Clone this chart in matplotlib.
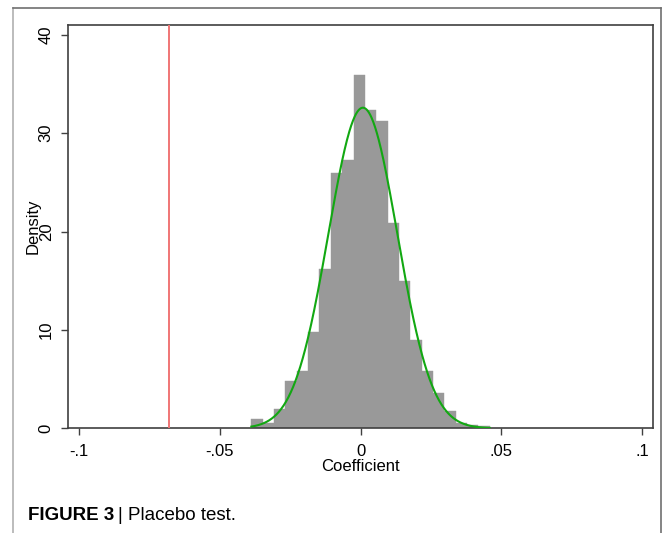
import numpy as np
import matplotlib
matplotlib.use("Agg")
import matplotlib.pyplot as plt
from matplotlib.lines import Line2D

# ---- data ----
bin_start = -0.0388
bin_width = 0.004032
densities = [0.95, 0.5, 2.0, 4.8, 5.8, 9.8, 16.2, 26.0, 27.3, 35.9, 32.4,
             31.2, 20.9, 15.0, 9.0, 5.8, 3.6, 1.8, 0.55, 0.3, 0.25]
normal_mean = 0.0008
normal_sd = 0.01224
true_coef = -0.068
x_ticks = [-0.1, -0.05, 0, 0.05, 0.1]
x_ticklabels = ["-.1", "-.05", "0", ".05", ".1"]
y_ticks = [0, 10, 20, 30, 40]
y_ticklabels = ["0", "10", "20", "30", "40"]

plt.rcParams['font.family'] = ['Liberation Sans', 'DejaVu Sans']

fig = plt.figure(figsize=(6.63, 5.33), dpi=100)
W, H = 663, 533

# outer frame of the figure panel
fig.add_artist(Line2D([12.7 / W, 12.7 / W], [0, 1 - 8.3 / H], transform=fig.transFigure, color='#b0b0b0', lw=1.2))
fig.add_artist(Line2D([12.7 / W, 661 / W], [1 - 8.3 / H, 1 - 8.3 / H], transform=fig.transFigure, color='#707070', lw=1.2))
fig.add_artist(Line2D([661 / W, 661 / W], [0, 1 - 8.3 / H], transform=fig.transFigure, color='#707070', lw=1.2))

ax = fig.add_axes([67.7 / W, 1 - 428.3 / H, (652.7 - 67.7) / W, (428.3 - 25) / H])

n = len(densities)
lefts = bin_start + bin_width * np.arange(n)
ax.bar(lefts, densities, width=bin_width, align='edge', color='#999999',
       edgecolor='#999999', linewidth=0.3, zorder=2)

xs = np.linspace(bin_start, bin_start + bin_width * n, 400)
pdf = np.exp(-0.5 * ((xs - normal_mean) / normal_sd) ** 2) / (normal_sd * np.sqrt(2 * np.pi))
ax.plot(xs, pdf, color='#12a812', lw=1.5, zorder=3)

ax.axvline(true_coef, color='#f07575', lw=1.4, zorder=3)

ax.set_xlim(-0.104, 0.1037)
ax.set_ylim(0, 41)

ax.set_xticks(x_ticks)
ax.set_xticklabels(x_ticklabels, fontsize=12)
ax.set_yticks(y_ticks)
ax.set_yticklabels(y_ticklabels, fontsize=12, rotation=90, va='center')
ax.tick_params(axis='both', direction='out', length=5, width=1, color='#404040', pad=6)
ax.tick_params(axis='y', pad=5)

for sp in ax.spines.values():
    sp.set_color('#404040')
    sp.set_linewidth(1.2)

ax.set_xlabel("Coefficient", fontsize=12, labelpad=0)
ax.set_ylabel("Density", fontsize=12, labelpad=-1)

fig.text(28 / W, 1 - 516 / H, "FIGURE 3", fontsize=13.5, fontweight='bold', va='center', ha='left')
fig.text(118 / W, 1 - 516 / H, "| Placebo test.", fontsize=13.5, va='center', ha='left')

fig.savefig("out.png", dpi=100)
